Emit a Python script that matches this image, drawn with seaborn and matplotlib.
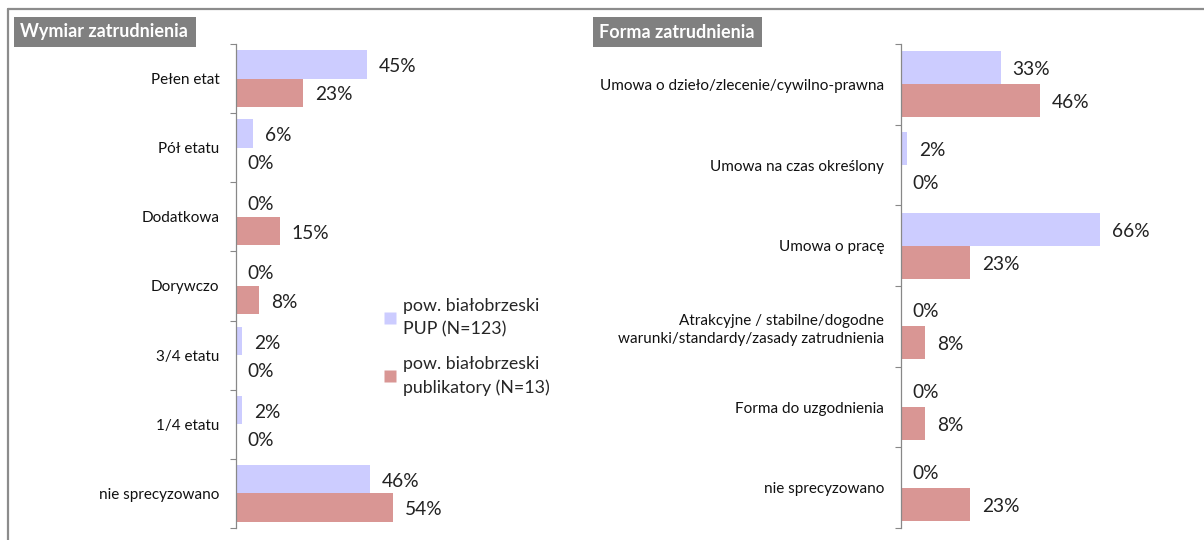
import matplotlib
matplotlib.use("Agg")
import matplotlib.pyplot as plt
import seaborn as sns
import pandas as pd
import numpy as np
from matplotlib.lines import Line2D
from matplotlib.patches import Rectangle

sns.set_style("white")
plt.rcParams['font.family'] = ['Lato', 'DejaVu Sans']

series = ["pow. białobrzeski\nPUP (N=123)", "pow. białobrzeski\npublikatory (N=13)"]
colors = ["#CCCCFF", "#D99694"]

left_title = "Wymiar zatrudnienia"
left_cats = ["Pełen etat", "Pół etatu", "Dodatkowa", "Dorywczo", "3/4 etatu", "1/4 etatu", "nie sprecyzowano"]
left_pup = [45, 6, 0, 0, 2, 2, 46]
left_pub = [23, 0, 15, 8, 0, 0, 54]

right_title = "Forma zatrudnienia"
right_cats = ["Umowa o dzieło/zlecenie/cywilno-prawna", "Umowa na czas określony", "Umowa o pracę",
              "Atrakcyjne / stabilne/dogodne\nwarunki/standardy/zasady zatrudnienia",
              "Forma do uzgodnienia", "nie sprecyzowano"]
right_pup = [33, 2, 66, 0, 0, 0]
right_pub = [46, 0, 23, 8, 8, 23]

W, H = 1204, 540
fig = plt.figure(figsize=(W/100, H/100), dpi=100)

def px_ax(x0, x1, y0, y1):
    return fig.add_axes([x0/W, 1 - y1/H, (x1-x0)/W, (y1-y0)/H])

def panel(ax, cats, a, b, xmax):
    df = pd.DataFrame({
        "cat": cats * 2,
        "val": list(a) + list(b),
        "ser": [series[0]] * len(cats) + [series[1]] * len(cats),
    })
    sns.barplot(data=df, y="cat", x="val", hue="ser", order=cats, hue_order=series,
                palette=colors, orient="h", width=0.82, ax=ax, legend=False,
                saturation=1, edgecolor="none")
    ax.set_xlim(0, xmax)
    n = len(cats)
    ax.set_ylim(n - 0.5, -0.5)
    for container in ax.containers:
        for bar in container:
            w = bar.get_width()
            yc = bar.get_y() + bar.get_height() / 2
            ax.annotate(f"{w:.0f}%", (w, yc), xytext=(8.5, -1.5), textcoords="offset points",
                        ha="left", va="center", fontsize=13.8, color="#222222")
    ax.set_xlabel("")
    ax.set_ylabel("")
    ax.set_xticks([])
    ax.set_yticks(range(n))
    ax.set_yticklabels(cats, fontsize=11, color="#111111", linespacing=1.35)
    ax.set_yticks(np.arange(-0.5, n, 1.0), minor=True)
    ax.tick_params(axis="y", which="major", length=0, pad=12)
    ax.tick_params(axis="y", which="minor", length=4, width=0.8, color="#888888", left=True, direction="out")
    for s in ["top", "right", "bottom"]:
        ax.spines[s].set_visible(False)
    ax.spines["left"].set_color("#888888")
    ax.spines["left"].set_linewidth(0.9)

axL = px_ax(236, 560, 44, 528)
panel(axL, left_cats, left_pup, left_pub, 324 / 2.91)
axR = px_ax(901, 1190, 44, 528)
panel(axR, right_cats, right_pup, right_pub, 289 / 3.02)

# title boxes
def title_box(x0, x1, y0, y1, text):
    fig.add_artist(Rectangle((x0/W, 1 - y1/H), (x1-x0)/W, (y1-y0)/H,
                             transform=fig.transFigure, facecolor="#808080", edgecolor="none"))
    fig.text((x0 + 6)/W, 1 - (y0 + y1)/2/H, text, fontsize=13, fontweight="bold", color="white",
             ha="left", va="center")

title_box(14, 196, 17, 47, left_title)
title_box(593, 762, 17, 47, right_title)

# legend
handles = [Line2D([0], [0], marker="s", linestyle="none", markersize=8,
                  markerfacecolor=c, markeredgecolor="none") for c in colors]
leg = fig.legend(handles, series, loc="upper left", bbox_to_anchor=(378/W, 1 - 291/H),
                 frameon=False, fontsize=12.8, handlelength=0.6, handletextpad=0.4,
                 labelspacing=1.05, borderaxespad=0)
for t in leg.get_texts():
    t.set_linespacing(1.55)

# outer frame lines
fig.add_artist(Line2D([8/W, 1], [1 - 9/H, 1 - 9/H], color="#8c8c8c", lw=1.6))
fig.add_artist(Line2D([8/W, 8/W], [0, 1 - 9/H], color="#8c8c8c", lw=1.6))

fig.savefig("out.png", dpi=100)
